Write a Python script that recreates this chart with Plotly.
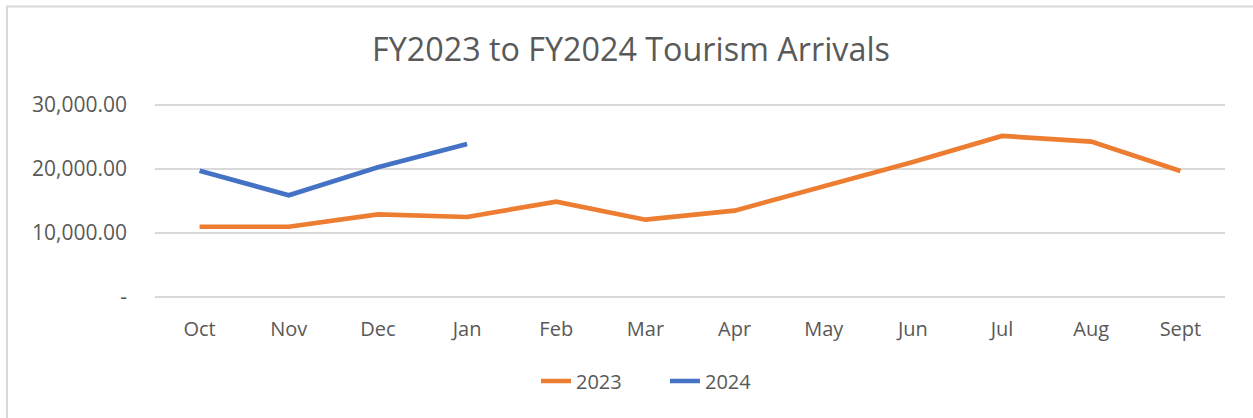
import plotly.graph_objects as go

months = ["Oct", "Nov", "Dec", "Jan", "Feb", "Mar", "Apr", "May", "Jun", "Jul", "Aug", "Sept"]
arrivals_2023 = [10980, 10980, 12920, 12500, 14900, 12080, 13490, 17240, 21100, 25160, 24270, 19690]
months_2024 = ["Oct", "Nov", "Dec", "Jan"]
arrivals_2024 = [19730, 15890, 20260, 23900]
y_tickvals = [0, 10000, 20000, 30000]
y_ticktext = ["-", "10,000.00", "20,000.00", "30,000.00"]

W, H = 1253, 418
L, R, T, B = 155, 28, 103, 119
pw, ph = W - L - R, H - T - B

FONT = "Open Sans"
GRAY = "#595959"

fig = go.Figure()
fig.add_trace(go.Scatter(x=months, y=arrivals_2023, mode="lines", name="2023",
                         line=dict(color="#ED7D31", width=4.7)))
fig.add_trace(go.Scatter(x=months_2024, y=arrivals_2024, mode="lines", name="2024",
                         line=dict(color="#4472C4", width=4.7)))

def px_x(p):
    return (p - L) / pw

def px_y(p):
    return (H - B - p) / ph

fig.update_layout(
    width=W, height=H,
    margin=dict(l=L, r=R, t=T, b=B, autoexpand=False),
    paper_bgcolor="white", plot_bgcolor="white",
    font=dict(family=FONT, color=GRAY, size=20),
    title=dict(text="FY2023 to FY2024 Tourism Arrivals", font=dict(size=32.3, color=GRAY, family=FONT),
               x=631 / W, xref="container", xanchor="center",
               y=1 - 50 / H, yref="container", yanchor="middle"),
    xaxis=dict(type="category", categoryorder="array", categoryarray=months,
               range=[-0.5, 11.5], showgrid=False, zeroline=False, showline=False,
               ticks="", tickfont=dict(size=20, color=GRAY, family=FONT),
               ticklabelstandoff=16),
    yaxis=dict(range=[-300, 30300], tickvals=y_tickvals, ticktext=y_ticktext,
               showgrid=True, gridcolor="#D9D9D9", gridwidth=1.5,
               zeroline=False, showline=False, ticks="",
               tickfont=dict(size=21, color=GRAY, family=FONT),
               ticklabelstandoff=27),
    legend=dict(orientation="h", xref="container", yref="container",
                x=665 / W, xanchor="center", y=1 - 381 / H, yanchor="middle",
                font=dict(size=20, color=GRAY, family=FONT), itemwidth=30,
                entrywidth=84),
    showlegend=True,
    shapes=[dict(type="rect", xref="paper", yref="paper",
                 x0=px_x(7), x1=px_x(1262), y0=px_y(6.5), y1=px_y(430),
                 line=dict(color="#D9D9D9", width=2), fillcolor="rgba(0,0,0,0)", layer="below")],
)

fig.write_html("out.html", config={"displayModeBar": False},
               post_script="document.body.style.margin='0';document.body.style.padding='0';")
